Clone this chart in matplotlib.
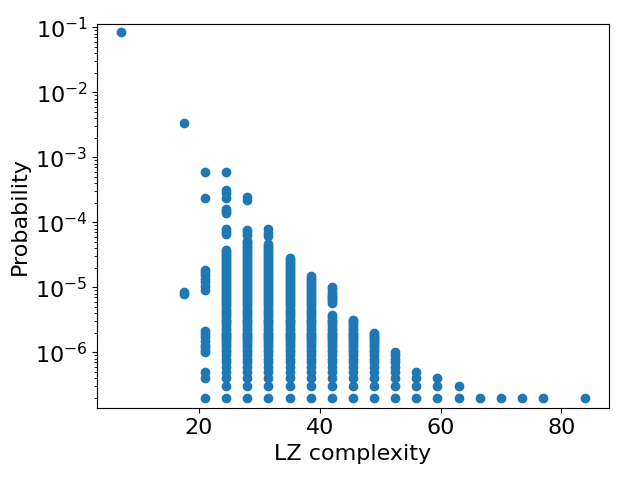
import matplotlib
matplotlib.use("Agg")
import matplotlib.pyplot as plt

# LZ complexity of each column (n = 128 bit strings)
lz_values = [7.0, 17.5, 21.0, 24.5, 28.0, 31.5, 35.0, 38.5, 42.0, 45.5,
             49.0, 52.5, 56.0, 59.5, 63.0, 66.5, 70.0, 73.5, 77.0, 84.0]

# probabilities, in units of 1e-7
prob_e7 = [
    [860000],
    [78, 86, 33300],
    [2, 4, 5, 10, 11, 12, 13, 15, 17, 19, 21, 91, 105, 120, 135, 155, 170, 186, 2340, 5940],
    [2, 3, 4, 5, 6, 7, 8, 9, 10, 11, 12, 13, 14, 15, 16, 17, 18, 19, 20, 22, 24, 26, 28, 30, 32,
     35, 38, 41, 44, 47, 51, 55, 59, 63, 68, 73, 79, 85, 91, 98, 105, 113, 121, 130, 140, 150,
     161, 173, 186, 200, 215, 231, 248, 266, 286, 307, 330, 355, 375,
     660, 720, 800, 1400, 1500, 1600, 2340, 2800, 3200, 6000],
    [2, 3, 4, 5, 6, 7, 8, 9, 10, 11, 12, 13, 14, 15, 16, 17, 18, 19, 20, 22, 24, 26, 28, 30, 32,
     35, 38, 41, 44, 47, 51, 55, 59, 63, 68, 73, 79, 85, 91, 98, 105, 113, 121, 130, 140, 150,
     161, 173, 186, 200, 215, 231, 248, 266, 286, 307, 330, 355, 381, 410, 440, 472, 507, 520,
     640, 700, 760, 2200, 2500],
    [2, 3, 4, 5, 6, 7, 8, 9, 10, 11, 12, 13, 14, 15, 16, 17, 18, 19, 20, 22, 24, 26, 28, 30, 32,
     35, 38, 41, 44, 47, 51, 55, 59, 63, 68, 73, 79, 85, 91, 98, 105, 113, 121, 130, 140, 150,
     161, 173, 186, 200, 215, 231, 248, 266, 286, 307, 330, 355, 381, 410, 440, 470,
     620, 690, 780],
    [2, 3, 4, 5, 6, 7, 8, 9, 10, 11, 12, 13, 14, 15, 16, 17, 18, 19, 20, 22, 24, 26, 28, 30, 32,
     35, 38, 41, 44, 47, 51, 55, 59, 63, 68, 73, 79, 85, 91, 98, 105, 113, 121, 130, 140, 150,
     161, 173, 186, 200, 215, 231, 248, 266, 280],
    [2, 3, 4, 5, 6, 7, 8, 9, 10, 11, 12, 13, 14, 15, 16, 17, 18, 19, 20, 22, 24, 26, 28, 30, 32,
     35, 38, 41, 44, 47, 51, 55, 59, 63, 68, 73, 79, 85, 91, 98, 105, 113, 121, 130, 140, 150],
    [2, 3, 4, 5, 6, 7, 8, 9, 10, 11, 12, 13, 14, 15, 16, 17, 18, 19, 20, 22, 24, 26, 28, 30, 32,
     35, 38, 57, 62, 66, 70, 75, 80, 86, 93, 100],
    [2, 3, 4, 5, 6, 7, 8, 9, 10, 11, 12, 13, 14, 15, 16, 17, 18, 19, 20, 22, 24, 26, 28, 30, 32],
    [2, 3, 4, 5, 6, 7, 8, 9, 10, 11, 12, 13, 14, 15, 16, 17, 18, 19, 20],
    [2, 3, 4, 5, 6, 7, 8, 9, 10],
    [2, 3, 4, 5],
    [2, 3, 4],
    [2, 3],
    [2],
    [2],
    [2],
    [2],
    [2],
]

xs = []
ys = []
for lz, col in zip(lz_values, prob_e7):
    for v in col:
        xs.append(lz)
        ys.append(v * 1e-7)

fig, ax = plt.subplots(figsize=(6.4, 4.8), dpi=100)
fig.subplots_adjust(left=0.152, right=0.951, top=0.949, bottom=0.149)

ax.scatter(xs, ys, color='tab:blue')
ax.set_yscale('log')
ax.set_ylim(1.37e-7, 0.111)

ax.set_xlabel('LZ complexity', fontsize=16)
ax.set_ylabel('Probability', fontsize=16)
ax.tick_params(axis='both', which='major', labelsize=16)

fig.savefig('out.png')
